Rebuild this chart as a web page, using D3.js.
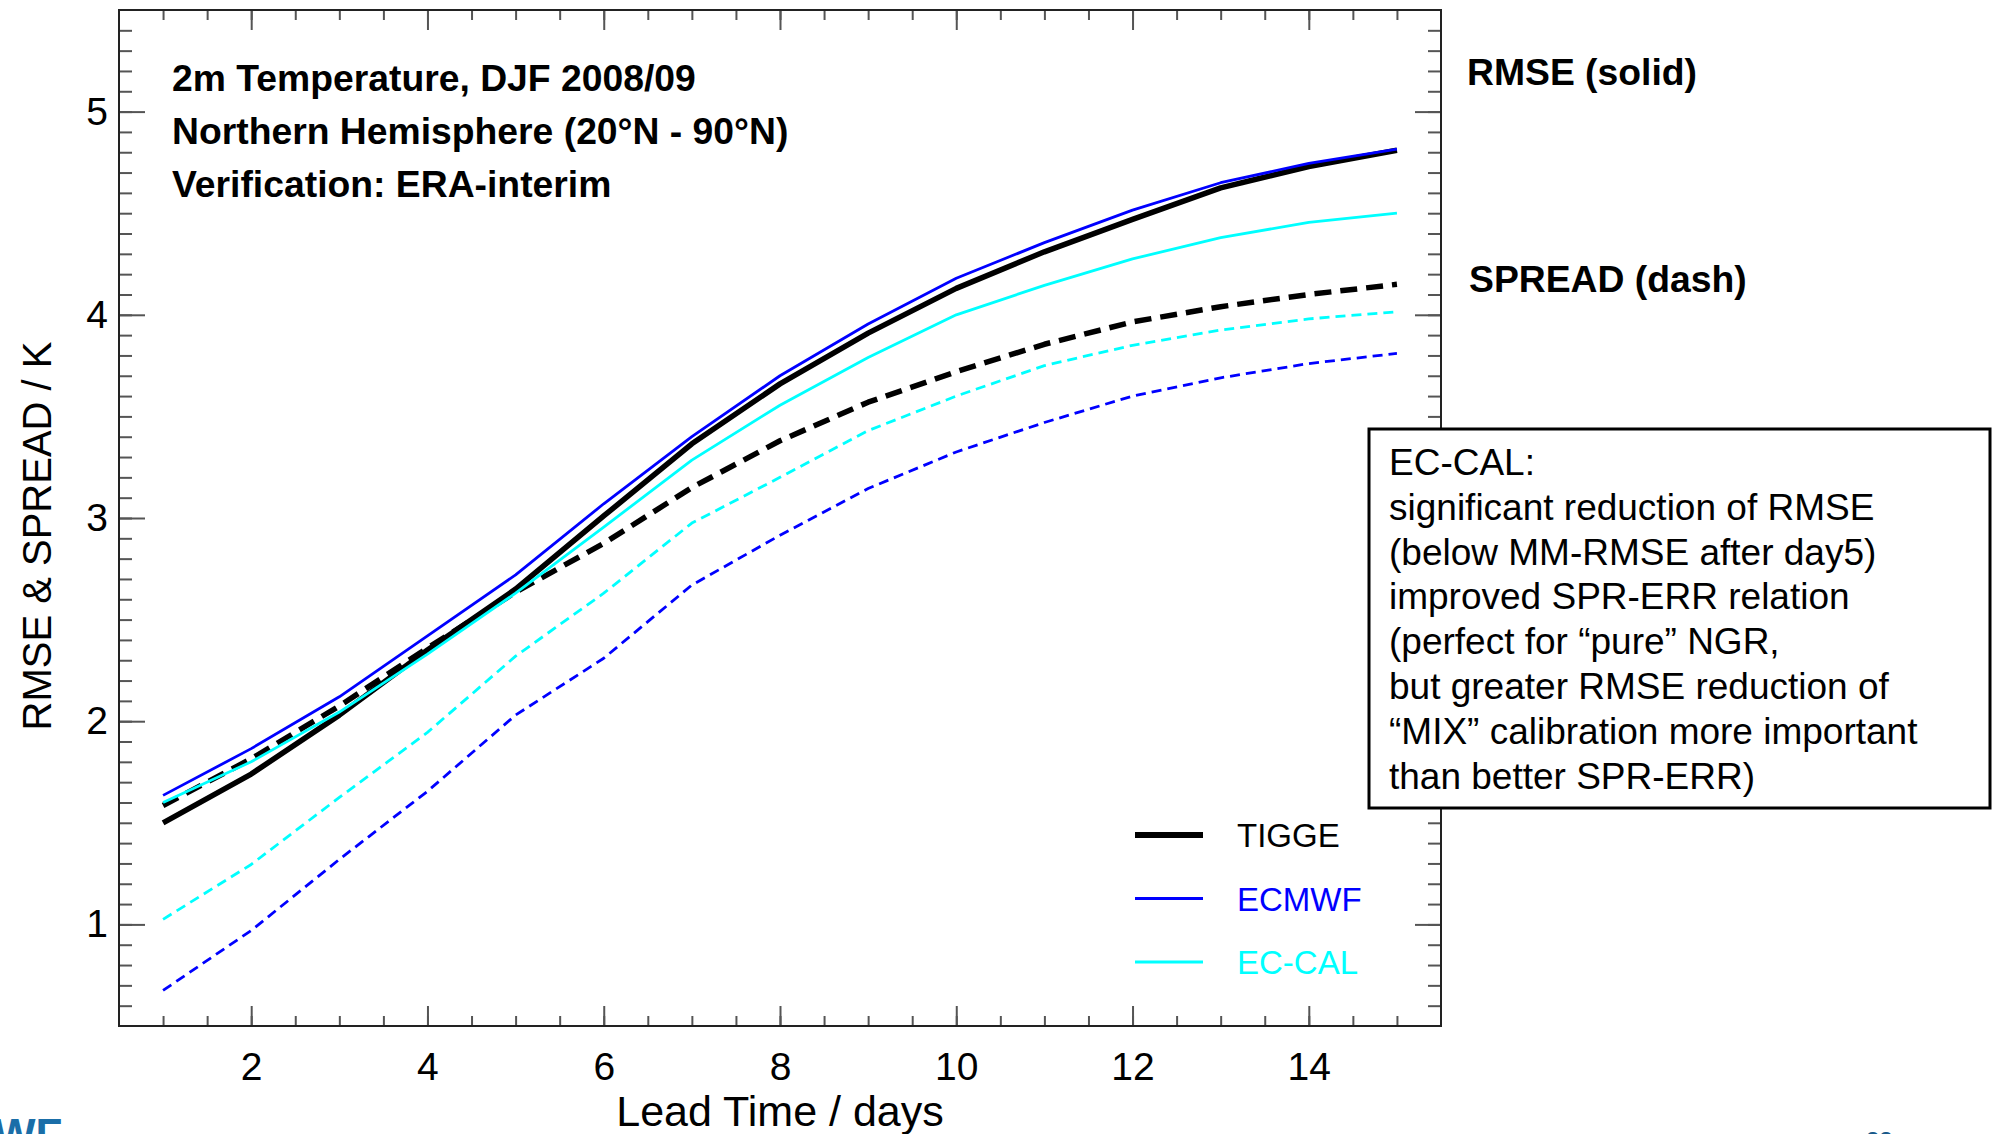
<!DOCTYPE html>
<html>
<head>
<meta charset="utf-8">
<script src="https://cdn.jsdelivr.net/npm/d3@7"></script>
<style>
  body { margin: 0; background: #fff; }
  svg text { font-family: "Liberation Sans", Arial, sans-serif; }
</style>
</head>
<body>
<div id="plot"></div>
<script>
// lead time in days
var days = [1, 2, 3, 4, 5, 6, 7, 8, 9, 10, 11, 12, 13, 14, 15];

// RMSE (solid) and SPREAD (dash) per system
var tiggeRmse   = [1.50, 1.74, 2.03, 2.35, 2.65, 3.01, 3.365, 3.66, 3.91, 4.13, 4.31, 4.47, 4.625, 4.73, 4.81];
var tiggeSpread = [1.585, 1.815, 2.075, 2.36, 2.635, 2.875, 3.15, 3.38, 3.57, 3.72, 3.855, 3.965, 4.04, 4.10, 4.15];
var ecmwfRmse   = [1.635, 1.865, 2.12, 2.42, 2.72, 3.07, 3.40, 3.70, 3.955, 4.18, 4.355, 4.515, 4.65, 4.745, 4.815];
var ecmwfSpread = [0.675, 0.97, 1.32, 1.655, 2.03, 2.31, 2.67, 2.915, 3.145, 3.325, 3.47, 3.60, 3.69, 3.76, 3.81];
var eccalRmse   = [1.60, 1.80, 2.045, 2.33, 2.63, 2.955, 3.285, 3.555, 3.79, 4.00, 4.145, 4.275, 4.38, 4.455, 4.50];
var eccalSpread = [1.025, 1.295, 1.625, 1.945, 2.32, 2.63, 2.975, 3.20, 3.43, 3.60, 3.75, 3.85, 3.925, 3.98, 4.015];

var xTicks = [2, 4, 6, 8, 10, 12, 14];
var yTicks = [1, 2, 3, 4, 5];

var legendNames = ['TIGGE', 'ECMWF', 'EC-CAL'];
var titleLines = ['2m Temperature, DJF 2008/09', 'Northern Hemisphere (20\u00B0N - 90\u00B0N)', 'Verification: ERA-interim'];
var noteLines = [
  'EC-CAL:',
  'significant reduction of RMSE',
  '(below MM-RMSE after day5)',
  'improved SPR-ERR relation',
  '(perfect for \u201Cpure\u201D NGR,',
  'but greater RMSE reduction of',
  '\u201CMIX\u201D calibration more important',
  'than better SPR-ERR)'
];

var W = 2000, H = 1134;
var plotL = 119, plotR = 1441, plotT = 10, plotB = 1026;

var svg = d3.select('#plot').append('svg')
    .attr('width', W)
    .attr('height', H);
svg.append('rect').attr('width', W).attr('height', H).attr('fill', '#fff');

var x = d3.scaleLinear().domain([0.5, 15.5]).range([plotL, plotR]);
var y = d3.scaleLinear().domain([0.5, 5.5]).range([plotB, plotT]);

var xMinor = d3.range(1, 15.01, 0.5);
var yMinor = d3.range(6, 55).map(function(d) { return d / 10; });

//axes: ticks point into the plot on all four sides
function styleAxis(g) {
  g.select('.domain').remove();
  g.selectAll('line').attr('stroke', '#555').attr('stroke-width', 2);
  g.selectAll('text').attr('fill', '#000').attr('font-size', 39)
    .style('font-family', '"Liberation Sans", Arial, sans-serif');
}

svg.append('g').attr('transform', 'translate(0,' + plotB + ')')
  .call(d3.axisBottom(x).tickValues(xMinor).tickSize(-10).tickFormat('')).call(styleAxis);
svg.append('g').attr('transform', 'translate(0,' + plotB + ')')
  .call(d3.axisBottom(x).tickValues(xTicks).tickSize(-20).tickPadding(26).tickFormat(d3.format('d'))).call(styleAxis);
svg.append('g').attr('transform', 'translate(0,' + plotT + ')')
  .call(d3.axisTop(x).tickValues(xMinor).tickSize(-10).tickFormat('')).call(styleAxis);
svg.append('g').attr('transform', 'translate(0,' + plotT + ')')
  .call(d3.axisTop(x).tickValues(xTicks).tickSize(-20).tickFormat('')).call(styleAxis);

svg.append('g').attr('transform', 'translate(' + plotL + ',0)')
  .call(d3.axisLeft(y).tickValues(yMinor).tickSize(-13).tickFormat('')).call(styleAxis);
svg.append('g').attr('transform', 'translate(' + plotL + ',0)')
  .call(d3.axisLeft(y).tickValues(yTicks).tickSize(-26).tickPadding(11).tickFormat(d3.format('d'))).call(styleAxis);
svg.append('g').attr('transform', 'translate(' + plotR + ',0)')
  .call(d3.axisRight(y).tickValues(yMinor).tickSize(-13).tickFormat('')).call(styleAxis);
svg.append('g').attr('transform', 'translate(' + plotR + ',0)')
  .call(d3.axisRight(y).tickValues(yTicks).tickSize(-26).tickFormat('')).call(styleAxis);

//frame
svg.append('rect')
  .attr('x', plotL).attr('y', plotT)
  .attr('width', plotR - plotL).attr('height', plotB - plotT)
  .attr('fill', 'none').attr('stroke', '#222').attr('stroke-width', 2);

//axis titles
svg.append('text')
  .attr('transform', 'translate(51,536) rotate(-90)')
  .attr('text-anchor', 'middle')
  .attr('font-size', 40)
  .text('RMSE & SPREAD / K');
svg.append('text')
  .attr('x', (plotL + plotR) / 2).attr('y', 1126)
  .attr('text-anchor', 'middle')
  .attr('font-size', 43)
  .text('Lead Time / days');

//curves
var line = d3.line()
  .x(function(d, i) { return x(days[i]); })
  .y(function(d) { return y(d); });

var series = [
  {values: tiggeSpread, color: '#000', width: 5.5, dash: '17,9'},
  {values: tiggeRmse,   color: '#000', width: 5.5, dash: null},
  {values: ecmwfSpread, color: '#0000ff', width: 2.8, dash: '10,6'},
  {values: ecmwfRmse,   color: '#0000ff', width: 2.8, dash: null},
  {values: eccalSpread, color: '#00ffff', width: 2.8, dash: '10,6'},
  {values: eccalRmse,   color: '#00ffff', width: 2.8, dash: null}
];

svg.append('g').selectAll('path')
  .data(series).enter().append('path')
  .attr('d', function(s) { return line(s.values); })
  .attr('fill', 'none')
  .attr('stroke', function(s) { return s.color; })
  .attr('stroke-width', function(s) { return s.width; })
  .attr('stroke-dasharray', function(s) { return s.dash; })
  .attr('stroke-linejoin', 'round');

//title block inside the plot
svg.append('g').selectAll('text')
  .data(titleLines).enter().append('text')
  .attr('x', 172)
  .attr('y', function(d, i) { return 91 + i * 53; })
  .attr('font-size', 37.3)
  .attr('font-weight', 'bold')
  .text(function(d) { return d; });

svg.append('text').attr('x', 1467).attr('y', 85)
  .attr('font-size', 37.3).attr('font-weight', 'bold').text('RMSE (solid)');
svg.append('text').attr('x', 1469).attr('y', 292)
  .attr('font-size', 37.3).attr('font-weight', 'bold').text('SPREAD (dash)');

//legend
var legendColors = ['#000', '#0000ff', '#00ffff'];
var legendWidths = [6, 3, 3];
var leg = svg.append('g').selectAll('g')
  .data(legendNames).enter().append('g')
  .attr('transform', function(d, i) { return 'translate(1135,' + (835 + i * 63.5) + ')'; });
leg.append('line')
  .attr('x1', 0).attr('x2', 68)
  .attr('stroke', function(d, i) { return legendColors[i]; })
  .attr('stroke-width', function(d, i) { return legendWidths[i]; });
leg.append('text')
  .attr('x', 102).attr('y', 12)
  .attr('font-size', 33)
  .attr('fill', function(d, i) { return legendColors[i]; })
  .text(function(d) { return d; });

//note box (white, covers the right frame)
svg.append('rect')
  .attr('x', 1369).attr('y', 429)
  .attr('width', 621).attr('height', 379)
  .attr('fill', '#fff').attr('stroke', '#000').attr('stroke-width', 3);
svg.append('g').selectAll('text')
  .data(noteLines).enter().append('text')
  .attr('x', 1389)
  .attr('y', function(d, i) { return 475 + i * 44.8; })
  .attr('font-size', 37)
  .text(function(d) { return d; });

//slide leftovers at the bottom edge
svg.append('text').attr('x', -6).attr('y', 1150)
  .attr('font-size', 44).attr('font-weight', 'bold').attr('fill', '#1a6ea8')
  .text('WF');
svg.append('text').attr('x', 1866).attr('y', 1149)
  .attr('font-size', 24).attr('font-weight', 'bold').attr('fill', '#1a5a8a')
  .text('22');
</script>
</body>
</html>
